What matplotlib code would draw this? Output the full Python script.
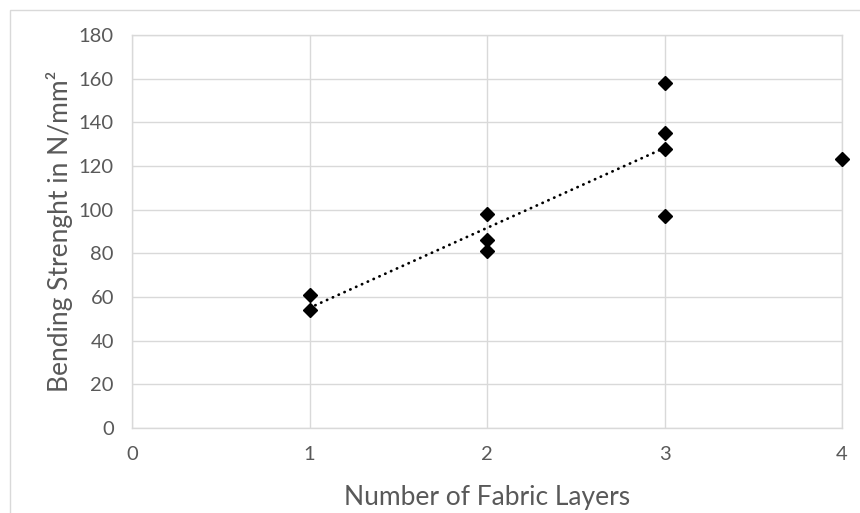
import numpy as np
import matplotlib
matplotlib.use("Agg")
import matplotlib.pyplot as plt
from matplotlib.patches import Rectangle

# Bending strength measurements grouped by number of fabric layers
layers_main = [1, 1, 2, 2, 2, 3, 3, 3, 3]
strength_main = [61, 54, 98, 86, 81, 158, 135, 128, 97]
layers_extra = [4]
strength_extra = [123]

x_ticks = [0, 1, 2, 3, 4]
y_ticks = [0, 20, 40, 60, 80, 100, 120, 140, 160, 180]

text_color = "#595959"
grid_color = "#d9d9d9"

plt.rcParams["font.family"] = ["Lato", "DejaVu Sans"]

fig = plt.figure(figsize=(8.6, 5.13), dpi=100)
fig.patch.set_facecolor("white")

# light chart-area frame
fig.add_artist(Rectangle((10 / 860, -0.05), 1.1, 1 - 10 / 513 + 0.05,
                         transform=fig.transFigure, fill=False,
                         edgecolor=grid_color, linewidth=1.0))

ax = fig.add_axes([132 / 860, 1 - 428 / 513, (842 - 132) / 860, (428 - 35) / 513])
ax.set_xlim(0, 4)
ax.set_ylim(0, 180)
ax.set_xticks(x_ticks)
ax.set_yticks(y_ticks)
ax.grid(True, color=grid_color, linewidth=1.0)
ax.set_axisbelow(True)
for side in ["left", "bottom", "top", "right"]:
    ax.spines[side].set_color(grid_color)
    ax.spines[side].set_linewidth(1.0)
ax.tick_params(length=0, colors=text_color, labelsize=14.5, pad=13)

# linear trend through the 1-3 layer samples
slope, intercept = np.polyfit(layers_main, strength_main, 1)
tx = np.array([min(layers_main), max(layers_main)])
ax.plot(tx, slope * tx + intercept, color="black", linewidth=2.0,
        linestyle=(0, (0.1, 2.2)), dash_capstyle="round", zorder=3)

ax.plot(layers_main + layers_extra, strength_main + strength_extra,
        linestyle="none", marker="D", markersize=7.5, color="black", zorder=4,
        clip_on=False)

ax.set_xlabel("Number of Fabric Layers", fontsize=19, color=text_color, labelpad=16)
ax.set_ylabel("Bending Strenght in N/mm²", fontsize=19, color=text_color, labelpad=4)

fig.savefig("out.png", dpi=100)
